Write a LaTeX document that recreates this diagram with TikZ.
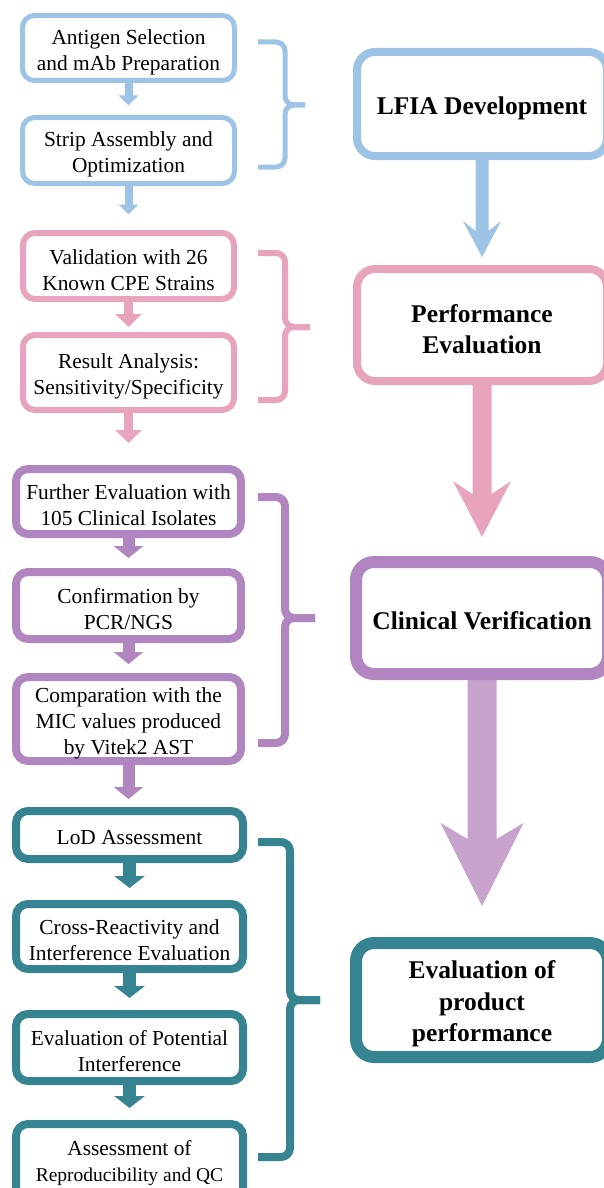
\documentclass[tikz,border=0pt]{standalone}
\usepackage{fontspec}
\setmainfont{Liberation Serif}
\usetikzlibrary{arrows.meta,backgrounds,calc}
\definecolor{cblue}{HTML}{9DC3E6}
\definecolor{cpink}{HTML}{E8A3BE}
\definecolor{cpurple}{HTML}{B085C0}
\definecolor{cpurplel}{HTML}{C6A2CD}
\definecolor{cteal}{HTML}{368491}
\tikzset{
  stepbox/.style={draw, fill=white, rounded corners=12pt, inner sep=0pt},
  bigbox/.style={draw, fill=white, rounded corners=18pt, inner sep=0pt},
  steptext/.style={align=center, inner sep=0pt, font=\fontsize{21.4}{26}\selectfont},
  bigtext/.style={align=center, inner sep=0pt, font=\fontsize{25.5}{31.5}\selectfont\bfseries},
  bracepath/.style={rounded corners=9pt, line cap=butt, line join=round},
}
% #1 name, #2 box style+options, #3 position, #4 text style, #5 text shift (down), #6 text
\newcommand\boxnode[6]{%
  \node[#2] (#1) at #3 {};
  \node[#4] (#1t) at ([yshift=-#5pt]#1.center) {#6};
}
\begin{document}
\begin{tikzpicture}[x=1pt,y=-1pt]
\useasboundingbox (0,0) rectangle (604,1188);
% ---------- left step boxes ----------
\boxnode{b1}{stepbox, draw=cblue, line width=5pt, minimum width=212pt, minimum height=65pt}{(128.5,48)}{steptext}{4}{Antigen Selection\\and mAb Preparation}
\boxnode{b2}{stepbox, draw=cblue, line width=5pt, minimum width=212pt, minimum height=66pt}{(128.5,150.5)}{steptext}{4}{Strip Assembly and\\Optimization}
\boxnode{p1}{stepbox, draw=cpink, line width=6pt, minimum width=211pt, minimum height=66pt}{(128.5,266)}{steptext}{4}{Validation with 26\\Known CPE Strains}
\boxnode{p2}{stepbox, draw=cpink, line width=6pt, minimum width=211pt, minimum height=75pt}{(128.5,372.5)}{steptext}{4}{Result Analysis:\\Sensitivity/Specificity}
\boxnode{u1}{stepbox, draw=cpurple, line width=8pt, minimum width=225pt, minimum height=65pt}{(128.5,501.5)}{steptext}{4}{Further Evaluation with\\105 Clinical Isolates}
\boxnode{u2}{stepbox, draw=cpurple, line width=8pt, minimum width=225pt, minimum height=67pt}{(128.5,605.5)}{steptext}{4}{Confirmation by\\PCR/NGS}
\boxnode{u3}{stepbox, draw=cpurple, line width=8pt, minimum width=225pt, minimum height=84pt}{(128.5,719)}{steptext}{4}{Comparation with the\\MIC values produced\\by Vitek2 AST}
\boxnode{t1}{stepbox, draw=cteal, line width=8pt, minimum width=227pt, minimum height=48pt}{(129.5,835)}{steptext}{3}{LoD Assessment}
\boxnode{t2}{stepbox, draw=cteal, line width=8pt, minimum width=227pt, minimum height=65pt}{(129.5,936.5)}{steptext}{4}{Cross-Reactivity and\\Interference Evaluation}
\boxnode{t3}{stepbox, draw=cteal, line width=8pt, minimum width=227pt, minimum height=67pt}{(129.5,1047.5)}{steptext}{4}{Evaluation of Potential\\Interference}
\boxnode{t4}{stepbox, draw=cteal, line width=8pt, minimum width=227pt, minimum height=78pt}{(129.5,1163)}{steptext}{0}{Assessment of\\{\fontsize{19.5}{26}\selectfont Reproducibility and QC}}
% ---------- right stage boxes ----------
\boxnode{lfia}{bigbox, draw=cblue, line width=8pt, minimum width=250pt, minimum height=104pt}{(482,104)}{bigtext}{4}{LFIA Development}
\boxnode{perf}{bigbox, draw=cpink, line width=8pt, minimum width=250pt, minimum height=112pt}{(482,325)}{bigtext}{4}{Performance\\Evaluation}
\boxnode{clin}{bigbox, draw=cpurple, line width=12pt, minimum width=252pt, minimum height=112pt}{(482,618)}{bigtext}{3}{Clinical Verification}
\boxnode{evalp}{bigbox, draw=cteal, line width=12pt, minimum width=252pt, minimum height=114pt}{(482,1000)}{bigtext}{4}{Evaluation of\\product\\performance}
% ---------- arrows (behind boxes) ----------
\begin{pgfonlayer}{background}
\draw[cblue, line width=8pt, -{Triangle[width=19pt,length=10pt]}, shorten >=9.5pt] (b1.south) -- (b2.north);
\draw[cblue, line width=8pt, -{Triangle[width=19pt,length=10pt]}] (b2.south) -- ++(0,28.5) coordinate (b2end);
\draw[cpink, line width=9pt, -{Triangle[width=26pt,length=13pt]}, shorten >=5pt] (p1.south) -- (p2.north);
\draw[cpink, line width=9pt, -{Triangle[width=26pt,length=13pt]}] (p2.south) -- ++(0,30) coordinate (p2end);
\draw[cpurple, line width=12pt, -{Triangle[width=29pt,length=12pt]}, shorten >=10pt] (u1.south) -- (u2.north);
\draw[cpurple, line width=12pt, -{Triangle[width=29pt,length=12pt]}, shorten >=9pt] (u2.south) -- (u3.north);
\draw[cpurple, line width=12pt, -{Triangle[width=29pt,length=12pt]}] (u3.south) -- ++(0,34) coordinate (u3end);
\draw[cteal, line width=13pt, -{Triangle[width=30pt,length=12pt]}, shorten >=12pt] (t1.south) -- (t2.north);
\draw[cteal, line width=13pt, -{Triangle[width=30pt,length=12pt]}, shorten >=12pt] (t2.south) -- (t3.north);
\draw[cteal, line width=13pt, -{Triangle[width=30pt,length=12pt]}, shorten >=12pt] (t3.south) -- (t4.north);
% big arrows
\fill[cblue] (lfia.south) ++(-6.5,0) -- ++(0,71) -- ++(-12.5,-10) -- ++(19,36) -- ++(19,-36) -- ++(-12.5,10) -- ++(0,-71) -- cycle;
\fill[cpink] (perf.south) ++(-9.5,0) -- ++(0,109) -- ++(-19.5,-13) -- ++(29,56) -- ++(29,-56) -- ++(-19.5,13) -- ++(0,-109) -- cycle;
\fill[cpurplel] (clin.south) ++(-14.5,0) -- ++(0,159) -- ++(-27,-16) -- ++(41.5,83) -- ++(41.5,-83) -- ++(-27,16) -- ++(0,-159) -- cycle;
\end{pgfonlayer}
% ---------- braces ----------
\draw[cblue, line width=5pt, bracepath] (258,42) -- (285,42) -- (285,105) -- (305,105);
\draw[cblue, line width=5pt, bracepath] (258,167) -- (285,167) -- (285,105) -- (305,105);
\draw[cpink, line width=6pt, bracepath] (258,253) -- (285,253) -- (285,327) -- (310,327);
\draw[cpink, line width=6pt, bracepath] (258,400) -- (285,400) -- (285,327) -- (310,327);
\draw[cpurple, line width=8pt, bracepath] (258,497) -- (285,497) -- (285,618) -- (315,618);
\draw[cpurple, line width=8pt, bracepath] (258,743) -- (285,743) -- (285,618) -- (315,618);
\draw[cteal, line width=8pt, bracepath] (258,842) -- (290,842) -- (290,1000) -- (320,1000);
\draw[cteal, line width=8pt, bracepath] (258,1157) -- (290,1157) -- (290,1000) -- (320,1000);
\end{tikzpicture}
\end{document}
